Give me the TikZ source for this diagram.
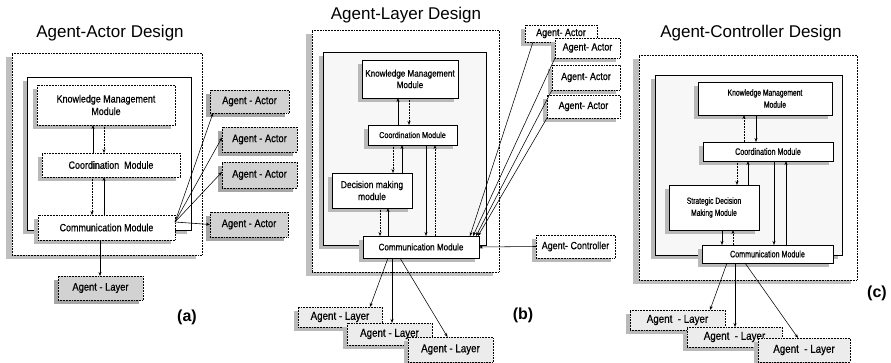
\documentclass[tikz,border=0pt]{standalone}
\usepackage{fontspec}
\setmainfont{Liberation Sans}
\newfontfamily\nf[FakeStretch=0.85,FakeBold=0.6]{Liberation Sans}
\newfontfamily\nnf[FakeStretch=0.75,FakeBold=0.6]{Liberation Sans}
\usetikzlibrary{shadows,arrows.meta}
\newcommand{\fs}[1]{\fontsize{#1}{#1}\selectfont}
\begin{document}
\begin{tikzpicture}[x=1pt,y=-1pt,line width=0.55pt,
  shd/.style={drop shadow={shadow xshift=-4pt,shadow yshift=-4pt,fill=gray!55,opacity=1}},
  bshd/.style={drop shadow={shadow xshift=-6pt,shadow yshift=-4pt,fill=gray!50,opacity=1}},
  box/.style={inner sep=0pt,outer sep=0pt,align=center},
  ttl/.style={font=\fs{17}},
  outerbox/.style={box,draw,densely dotted,fill=white,bshd},
  innerbox/.style={box,draw,fill=white,shd},
  dmod/.style={box,draw,densely dotted,fill=white,shd},
  smod/.style={box,draw,fill=white,shd},
  gext/.style={box,draw,densely dotted,fill=gray!35,drop shadow={shadow xshift=-4pt,shadow yshift=-4pt,fill=gray!70,opacity=1}},
  wext/.style={box,draw,densely dotted,fill=white,shd},
  lext/.style={box,draw,densely dotted,fill=gray!15,shd},
  arr/.style={-{Stealth[length=4pt,width=3pt]}},
  dar/.style={arr,densely dotted},
  lbl/.style={font=\bfseries\fs{16}}]
\useasboundingbox (0,0) rectangle (891,363);

% ================= (a) =================
\node[ttl] (tA) at (110,33) {Agent-Actor Design};
\node[outerbox,minimum width=190pt,minimum height=202pt] (oA) at (107,154) {};
\node[innerbox,minimum width=164pt,minimum height=153pt] (iA) at (109,153.5) {};
\node[dmod,minimum width=138pt,minimum height=40pt,font=\nf\fs{10.5}] (kmA) at (106,105) {Knowledge Management\\[2pt]Module};
\node[dmod,minimum width=138pt,minimum height=24pt,font=\nf\fs{10.5}] (coA) at (111,165) {Coordination\ \ Module};
\node[dmod,minimum width=137pt,minimum height=25pt,font=\nf\fs{10.5}] (cmA) at (106.5,227.5) {Communication Module};
\node[gext,minimum width=85pt,minimum height=24pt,font=\nf\fs{11}] (layA) at (100.5,288) {Agent - Layer};
\node[gext,minimum width=79pt,minimum height=23pt,font=\nf\fs{11}] (acA1) at (249.5,101.5) {Agent - Actor};
\node[gext,minimum width=75pt,minimum height=25pt,font=\nf\fs{11}] (acA2) at (259.5,139.5) {Agent - Actor};
\node[gext,minimum width=75pt,minimum height=26pt,font=\nf\fs{11}] (acA3) at (259.5,175) {Agent - Actor};
\node[gext,minimum width=78pt,minimum height=25pt,font=\nf\fs{11}] (acA4) at (249,224.5) {Agent - Actor};
\node[lbl] (labA) at (187,317) {(a)};
\coordinate (xa1) at (93,0);
\coordinate (xa2) at (104,0);
\coordinate (xa3) at (92,0);
\coordinate (xa4) at (100,0);
\draw[arr] (coA.north -| xa1) -- (kmA.south -| xa1);
\draw[dar] (kmA.south -| xa2) -- (coA.north -| xa2);
\draw[dar] (coA.south -| xa3) -- (cmA.north -| xa3);
\draw[arr] (cmA.north -| xa2) -- (coA.south -| xa2);
\draw[arr] (cmA.south -| xa4) -- (layA.north -| xa4);
\coordinate (cpA) at (175,222);
\draw[arr] (cpA) -- ([xshift=3pt]acA1.south west);
\draw[arr] (cpA) -- ([yshift=2pt]acA2.west);
\draw[arr] (cpA) -- ([yshift=3pt]acA3.west);
\draw[arr,semithick] (cpA) -- (acA4.west);

% ================= (b) =================
\node[ttl] (tB) at (406,15) {Agent-Layer Design};
\node[outerbox,minimum width=187pt,minimum height=242pt] (oB) at (405.5,151) {};
\node[innerbox,fill=gray!6,minimum width=163pt,minimum height=193pt] (iB) at (404.5,148.5) {};
\node[smod,minimum width=96pt,minimum height=38pt,font=\nf\fs{9.5}] (kmB) at (410,79) {Knowledge Management\\[2pt]Module};
\node[smod,minimum width=89pt,minimum height=20pt,font=\nf\fs{8.5}] (coB) at (412.5,135) {Coordination Module};
\node[smod,minimum width=80pt,minimum height=35pt,font=\nf\fs{10}] (deB) at (372,190.5) {Decision making\\[2pt]module};
\node[smod,minimum width=116pt,minimum height=22pt,font=\nf\fs{9.5}] (cmB) at (421,247) {Communication Module};
\node[wext,minimum width=79pt,minimum height=23pt,font=\nf\fs{10.5}] (ctB) at (575.5,246.5) {Agent- Controller};
\node[wext,minimum width=72pt,minimum height=17pt,font=\nf\fs{10.5}] (acB1) at (561,33.5) {Agent- Actor};
\node[wext,minimum width=65pt,minimum height=20pt,font=\nf\fs{10.5}] (acB2) at (587.5,48) {Agent- Actor};
\node[wext,minimum width=68pt,minimum height=25pt,font=\nf\fs{10.5}] (acB3) at (586,77.5) {Agent- Actor};
\node[wext,minimum width=73pt,minimum height=23pt,font=\nf\fs{10.5}] (acB4) at (583.5,106.5) {Agent- Actor};
\node[lext,minimum width=84pt,minimum height=20pt,font=\nf\fs{11.5}] (lyB1) at (340,317) {Agent - Layer};
\node[lext,minimum width=85pt,minimum height=22pt,font=\nf\fs{11.5}] (lyB2) at (389.5,334) {Agent - Layer};
\node[lext,minimum width=85pt,minimum height=25pt,font=\nf\fs{11.5}] (lyB3) at (450.5,349.5) {Agent - Layer};
\node[lbl] (labB) at (523,315) {(b)};
\coordinate (xb1) at (398,0);
\coordinate (xb2) at (409,0);
\coordinate (xb3) at (393,0);
\coordinate (xb4) at (402,0);
\coordinate (xb5) at (426,0);
\coordinate (xb6) at (435,0);
\coordinate (xb7) at (380,0);
\coordinate (xb8) at (388,0);
\draw[arr] (coB.north -| xb1) -- (kmB.south -| xb1);
\draw[dar] (kmB.south -| xb2) -- (coB.north -| xb2);
\draw[dar] (coB.south -| xb3) -- (deB.north -| xb3);
\draw[arr] (deB.north -| xb4) -- (coB.south -| xb4);
\draw[arr] (coB.south -| xb5) -- (cmB.north -| xb5);
\draw[dar] (cmB.north -| xb6) -- (coB.south -| xb6);
\draw[dar] (deB.south -| xb7) -- (cmB.north -| xb7);
\draw[arr] (cmB.north -| xb8) -- (deB.south -| xb8);
\draw[arr] (ctB.west) -- (cmB.east);
\draw[arr] ([xshift=8pt]acB1.south west) -- ([xshift=-9pt]cmB.north east);
\draw[arr] (acB2.south west) -- ([xshift=-6pt]cmB.north east);
\draw[arr] (acB3.south west) -- ([xshift=-3pt]cmB.north east);
\draw[arr] (acB4.south west) -- ([xshift=-1pt]cmB.north east);
\coordinate (xb9) at (392,0);
\coordinate (xb10) at (400,0);
\draw[arr] (cmB.south -| xb8) -- ([xshift=-12pt]lyB1.north east);
\draw[arr] (cmB.south -| xb9) -- (lyB2.north -| xb9);
\draw[arr] (cmB.south -| xb10) -- ([xshift=-3pt]lyB3.north);

% ================= (c) =================
\node[ttl] (tC) at (751,33) {Agent-Controller Design};
\node[outerbox,minimum width=218pt,minimum height=225pt] (oC) at (748,167.5) {};
\node[innerbox,fill=gray!6,minimum width=187pt,minimum height=180pt] (iC) at (748.5,165) {};
\node[smod,minimum width=134pt,minimum height=33pt,font=\nnf\fs{9}] (kmC) at (765,98.5) {Knowledge Management\\[3pt]\hspace*{20pt}Module};
\node[smod,minimum width=130pt,minimum height=19pt,font=\nnf\fs{9.5}] (coC) at (768,151.5) {Coordination Module};
\node[smod,minimum width=90pt,minimum height=45pt,font=\nnf\fs{9}] (sdC) at (714,207.5) {Strategic Decision\\[3pt]Making Module};
\node[smod,minimum width=131pt,minimum height=18pt,font=\nnf\fs{9.5}] (cmC) at (767.5,254) {Communication Module};
\node[lext,minimum width=95pt,minimum height=20pt,font=\nf\fs{11.5}] (lyC1) at (677.5,320) {Agent\ \ - Layer};
\node[lext,minimum width=95pt,minimum height=20pt,font=\nf\fs{11.5}] (lyC2) at (734.5,337) {Agent\ \ - Layer};
\node[lext,minimum width=92pt,minimum height=24pt,font=\nf\fs{11.5}] (lyC3) at (804,350) {Agent\ \ - Layer};
\node[lbl] (labC) at (877,293) {(c)};
\coordinate (xc1) at (744,0);
\coordinate (xc2) at (756,0);
\coordinate (xc3) at (737,0);
\coordinate (xc4) at (748,0);
\coordinate (xc5) at (774,0);
\coordinate (xc6) at (786,0);
\coordinate (xc7) at (722,0);
\coordinate (xc8) at (733,0);
\draw[dar] (coC.north -| xc1) -- (kmC.south -| xc1);
\draw[arr] (kmC.south -| xc2) -- (coC.north -| xc2);
\draw[dar] (coC.south -| xc3) -- (sdC.north -| xc3);
\draw[arr] (sdC.north -| xc4) -- (coC.south -| xc4);
\draw[arr] (coC.south -| xc5) -- (cmC.north -| xc5);
\draw[arr] (cmC.north -| xc6) -- (coC.south -| xc6);
\draw[arr] (sdC.south -| xc7) -- (cmC.north -| xc7);
\draw[dar] (cmC.north -| xc8) -- (sdC.south -| xc8);
\coordinate (xc9) at (727,0);
\coordinate (xc10) at (735,0);
\coordinate (xc11) at (745,0);
\draw[arr] (cmC.south -| xc9) -- ([xshift=-15pt]lyC1.north east);
\draw[arr] (cmC.south -| xc10) -- (lyC2.north -| xc10);
\draw[arr] (cmC.south -| xc11) -- ([xshift=-6pt]lyC3.north);
\end{tikzpicture}
\end{document}
